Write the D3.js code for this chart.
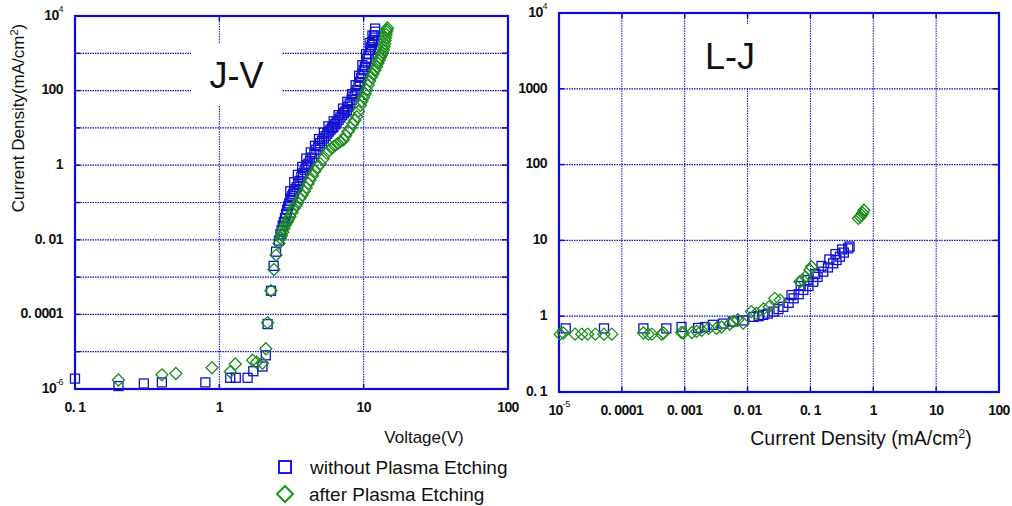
<!DOCTYPE html>
<html><head><meta charset="utf-8">
<script src="https://cdn.jsdelivr.net/npm/d3@7/dist/d3.min.js"></script>
<style>
body{margin:0;background:#fff;}
svg{display:block;}
.tick-label{font-family:"Liberation Sans",Arial,sans-serif;font-size:14px;font-weight:bold;fill:#111;letter-spacing:-0.6px;}
.lab{font-family:"Liberation Sans",Arial,sans-serif;fill:#111;}
</style></head>
<body>
<svg id="c" width="1012" height="506"></svg>
<script>
// ---------- data ----------
const seriesNames = ["without Plasma Etching", "after Plasma Etching"];
// J-V : [Voltage (V), Current density (mA/cm2)]
const jvWithout = [[0.1,1.9e-6],[0.2,1.2e-6],[0.3,1.4e-6],[0.4,1.5e-6],[0.8,1.5e-6],[1.19,2e-6],[1.3,2e-6],[1.57,2e-6],[1.72,3e-6],[1.99,4e-6],[2.1,8e-6],[2.16,5.5e-5],[2.28,4.3e-4],[2.38,2e-3],[2.47,4.8e-3],[2.59,9.5e-3],[2.65,0.014],[2.7,0.018],[2.75,0.024],[2.8,0.03],[2.85,0.038],[2.9,0.05],[2.95,0.064],[3.0,0.08],[3.05,0.095],[3.1,0.11],[3.15,0.13],[3.2,0.15],[3.25,0.17],[3.3,0.2],[3.37,0.23],[3.44,0.26],[3.52,0.31],[3.6,0.38],[3.7,0.48],[3.8,0.6],[3.9,0.75],[4.0,0.9],[4.07,1.0],[4.14,1.1],[4.25,1.3],[4.4,1.6],[4.55,2.0],[4.7,2.6],[4.85,3.2],[4.99,3.9],[5.15,4.5],[5.3,5.2],[5.45,6.0],[5.6,7],[5.75,8],[5.9,9],[6.05,10],[6.17,10.7],[6.35,12.5],[6.5,14],[6.7,16.5],[6.9,19],[7.1,22],[7.3,25],[7.45,27.5],[7.64,30],[7.8,37],[8.0,45],[8.25,56],[8.5,70],[8.75,86],[8.96,104],[9.2,135],[9.4,170],[9.6,220],[9.8,280],[10.0,350],[10.2,437],[10.4,560],[10.6,700],[10.85,950],[11.1,1230],[11.25,1450],[11.4,1700],[11.55,2000],[11.7,2280],[11.85,3000],[12.0,3800],[12.0,4600],
  [3.1,0.2],[3.3,0.35],[3.5,0.55],[3.75,0.9],[4.0,1.5],[4.3,2.2],[4.6,3.3],[4.9,5],[5.3,7.5],[5.7,11],[6.2,15],[6.7,22],[7.2,33],[7.7,50],[8.3,80],[8.8,140],[9.3,250],[9.8,480],[10.4,950],[11.0,1900],[11.5,3000]];
const jvAfter = [[0.2,1.74e-6],[0.4,2.4e-6],[0.5,2.6e-6],[0.89,3.7e-6],[1.19,2.9e-6],[1.29,4.7e-6],[1.7,5.9e-6],[1.81,5.2e-6],[1.99,4.9e-6],[2.1,1.2e-5],[2.16,6e-5],[2.28,4.3e-4],[2.39,1.6e-3],[2.47,3.9e-3],[2.59,8e-3],[2.65,0.011],[2.7,0.013],[2.75,0.016],[2.8,0.02],[2.87,0.025],[2.95,0.03],[3.02,0.036],[3.09,0.042],[3.2,0.055],[3.3,0.07],[3.4,0.085],[3.5,0.1],[3.62,0.13],[3.75,0.16],[3.88,0.2],[4.0,0.25],[4.12,0.32],[4.25,0.4],[4.42,0.52],[4.6,0.7],[4.8,0.9],[5.0,1.1],[5.25,1.5],[5.55,2.1],[5.78,2.5],[6.0,2.9],[6.3,3.3],[6.6,3.8],[6.9,4.3],[7.24,4.8],[7.5,6.2],[7.8,8],[8.1,10],[8.4,13],[8.7,16],[8.96,20],[9.2,28],[9.5,40],[9.75,52],[10.0,65],[10.25,82],[10.5,104],[10.75,140],[11.0,180],[11.3,230],[11.6,280],[11.95,350],[12.3,437],[12.55,540],[12.8,650],[13.05,770],[13.3,900],[13.5,1050],[13.7,1230],[13.85,1500],[14.0,1800],[14.1,2200],[14.2,2600],[14.3,3200],[14.4,3800],[14.5,4300],[14.6,4800]];
// L-J : [Current density (mA/cm2), Luminance]
const ljWithout = [[1.28e-5,0.69],[5.2e-5,0.69],[2.2e-4,0.69],[5.1e-4,0.69],[8.9e-4,0.72],[1.64e-3,0.7],[2.1e-3,0.72],[2.8e-3,0.77],[4.1e-3,0.8],[5.9e-3,0.85],[8.5e-3,0.88],[0.0124,0.98],[0.015,1.0],[0.0178,1.04],[0.021,1.08],[0.026,1.15],[0.031,1.24],[0.037,1.33],[0.045,1.5],[0.054,1.72],[0.065,1.95],[0.077,2.22],[0.093,2.5],[0.111,2.85],[0.13,3.3],[0.16,3.87],[0.19,4.4],[0.23,4.99],[0.26,5.5],[0.295,6.1],[0.34,6.9],[0.4,7.86],[0.42,8.3],
  [0.05,1.9],[0.07,2.5],[0.09,3.0],[0.12,3.6],[0.15,4.6],[0.2,5.6],[0.25,6.6],[0.32,7.6]];
const ljAfter = [[1.04e-5,0.58],[1.17e-5,0.6],[1.8e-5,0.58],[2.3e-5,0.58],[2.86e-5,0.58],[3.8e-5,0.58],[5.2e-5,0.58],[6.9e-5,0.58],[2.2e-4,0.6],[2.64e-4,0.58],[3e-4,0.58],[4.3e-4,0.58],[4.6e-4,0.6],[8.9e-4,0.61],[9.5e-4,0.6],[1.3e-3,0.61],[1.55e-3,0.63],[1.86e-3,0.65],[2.4e-3,0.69],[3.2e-3,0.69],[3.85e-3,0.72],[5.2e-3,0.79],[5.9e-3,0.85],[7e-3,0.9],[8.5e-3,0.81],[0.0115,1.15],[0.0138,1.09],[0.018,1.25],[0.022,1.33],[0.027,1.72],[0.033,1.63],[0.068,2.85],[0.075,3.0],[0.083,3.3],[0.098,4.07],[0.104,4.5],[0.58,19.5],[0.62,20.5],[0.65,21.6],[0.68,23],[0.71,25]];
// tick labels
const jvXTicks = [[0.1,"0. 1"],[1,"1"],[10,"10"],[100,"100"]];
const jvYTicks = [[1e4,"10|4"],[100,"100"],[1,"1"],[0.01,"0. 01"],[1e-4,"0. 0001"],[1e-6,"10|-6"]];
const ljXTicks = [[1e-5,"10|-5"],[1e-4,"0. 0001"],[1e-3,"0. 001"],[0.01,"0. 01"],[0.1,"0. 1"],[1,"1"],[10,"10"],[100,"100"]];
const ljYTicks = [[1e4,"10|4"],[1000,"1000"],[100,"100"],[10,"10"],[1,"1"],[0.1,"0. 1"]];

// ---------- drawing ----------
const svg = d3.select("#c");
const BLUE = "#1010d0", GREEN = "#1a8c1a", FRAME = "#0a0ad0";

function label(g, x, y, txt, anchor, size, cls){
  const t = g.append("text").attr("class", cls||"tick-label").attr("x", x).attr("y", y)
    .attr("text-anchor", anchor).attr("dominant-baseline","middle");
  if(size) t.style("font-size", size+"px");
  if(txt.includes("|")){
    const [b,e] = txt.split("|");
    t.append("tspan").text(b);
    t.append("tspan").attr("dy",-6).style("font-size","9px").style("font-weight","normal").text(e);
  } else t.text(txt);
  return t;
}

function panel(o){
  const g = svg.append("g");
  const x = d3.scaleLog().domain(o.xd).range([o.x0,o.x1]);
  const y = d3.scaleLog().domain(o.yd).range([o.y1,o.y0]);
  const decX = d3.range(Math.log10(o.xd[0]), Math.log10(o.xd[1])+1).map(p=>Math.pow(10,p));
  const decY = d3.range(Math.log10(o.yd[0]), Math.log10(o.yd[1])+1).map(p=>Math.pow(10,p));
  // grid
  g.selectAll(".gx").data(decX.slice(1,-1)).join("line")
    .attr("x1",d=>x(d)).attr("x2",d=>x(d)).attr("y1",o.y0).attr("y2",o.y1)
    .attr("stroke",FRAME).attr("stroke-width",1).attr("stroke-dasharray","1.5,1");
  g.selectAll(".gy").data(decY.slice(1,-1)).join("line")
    .attr("y1",d=>y(d)).attr("y2",d=>y(d)).attr("x1",o.x0).attr("x2",o.x1)
    .attr("stroke",FRAME).attr("stroke-width",1.2).attr("stroke-dasharray","1.5,1");
  // ticks inward
  decX.forEach(d=>{
    g.append("line").attr("x1",x(d)).attr("x2",x(d)).attr("y1",o.y1).attr("y2",o.y1-5).attr("stroke",FRAME).attr("stroke-width",1.5);
    g.append("line").attr("x1",x(d)).attr("x2",x(d)).attr("y1",o.y0).attr("y2",o.y0+5).attr("stroke",FRAME).attr("stroke-width",1.5);
  });
  decY.forEach(d=>{
    g.append("line").attr("y1",y(d)).attr("y2",y(d)).attr("x1",o.x0).attr("x2",o.x0+5).attr("stroke",FRAME).attr("stroke-width",1.5);
    g.append("line").attr("y1",y(d)).attr("y2",y(d)).attr("x1",o.x1).attr("x2",o.x1-6).attr("stroke",FRAME).attr("stroke-width",1.5);
  });
  // title box
  g.append("rect").attr("x",o.tb[0]).attr("y",o.tb[1]).attr("width",o.tb[2]).attr("height",o.tb[3]).attr("fill","#fff");
  g.append("text").attr("class","lab").attr("x",o.tb[0]+o.tb[2]/2).attr("y",o.tb[1]+o.tb[3]/2+13)
    .attr("text-anchor","middle").style("font-size","36px").text(o.title);
  // frame
  g.append("rect").attr("x",o.x0).attr("y",o.y0).attr("width",o.x1-o.x0).attr("height",o.y1-o.y0)
    .attr("fill","none").attr("stroke",FRAME).attr("stroke-width",2.2);
  // tick labels
  o.xt.forEach(([v,t])=>label(g, x(v), o.y1+19, t, "middle"));
  o.yt.forEach(([v,t])=>label(g, o.x0-12, y(v), t, "end"));
  // points
  const sq = 9;
  g.selectAll(".s1").data(o.s1).join("rect")
    .attr("x",d=>x(d[0])-sq/2).attr("y",d=>y(d[1])-sq/2).attr("width",sq).attr("height",sq)
    .attr("fill","none").attr("stroke",BLUE).attr("stroke-width",1.3);
  const dm = 6;
  g.selectAll(".s2").data(o.s2).join("path")
    .attr("d",d=>{const cx=x(d[0]),cy=y(d[1]);return `M${cx},${cy-dm}L${cx+dm},${cy}L${cx},${cy+dm}L${cx-dm},${cy}Z`;})
    .attr("fill","none").attr("stroke",GREEN).attr("stroke-width",1.3);
  return g;
}

panel({xd:[0.1,100], yd:[1e-6,1e4], x0:75, x1:508, y0:16, y1:389,
  xt:jvXTicks, yt:jvYTicks, s1:jvWithout, s2:jvAfter, title:"J-V", tb:[191,44,91,62]});
panel({xd:[1e-5,100], yd:[0.1,1e4], x0:559, x1:999, y0:13, y1:392,
  xt:ljXTicks, yt:ljYTicks, s1:ljWithout, s2:ljAfter, title:"L-J", tb:[688,24,84,64]});

// axis titles
const yl = svg.append("text").attr("class","lab").attr("transform","translate(24,118) rotate(-90)")
  .attr("text-anchor","middle").style("font-size","17px");
yl.append("tspan").text("Current Density(mA/cm");
yl.append("tspan").attr("dy",-6).style("font-size","11px").text("2");
yl.append("tspan").attr("dy",6).text(")");
svg.append("text").attr("class","lab").attr("x",424).attr("y",443).attr("text-anchor","middle").style("font-size","17px").text("Voltage(V)");
const xl = svg.append("text").attr("class","lab").attr("x",861).attr("y",445).attr("text-anchor","middle").style("font-size","19.5px");
xl.append("tspan").text("Current  Density (mA/cm");
xl.append("tspan").attr("dy",-7).style("font-size","12.5px").text("2");
xl.append("tspan").attr("dy",7).text(")");

// legend
const lg = svg.append("g");
lg.append("rect").attr("x",279).attr("y",461).attr("width",12).attr("height",12).attr("fill","none").attr("stroke","#1a1aff").attr("stroke-width",2);
lg.append("text").attr("class","lab").attr("x",310).attr("y",474).style("font-size","19px").text(seriesNames[0]);
lg.append("path").attr("d","M285,486L293,494L285,502L277,494Z").attr("fill","none").attr("stroke","#139a13").attr("stroke-width",2);
lg.append("text").attr("class","lab").attr("x",309).attr("y",501).style("font-size","19px").text(seriesNames[1]);
</script>
</body></html>
